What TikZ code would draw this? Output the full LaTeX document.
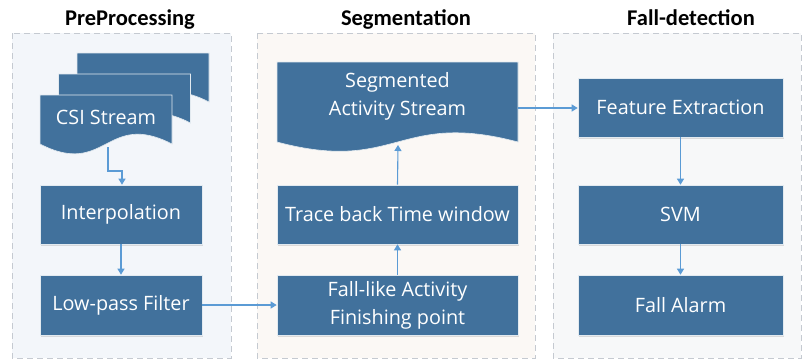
\documentclass[tikz,border=0pt]{standalone}
\usepackage{fontspec}
\setmainfont{Open Sans}
\newfontfamily\titlefont{Carlito}
\usetikzlibrary{arrows.meta,shadows}
\definecolor{boxblue}{HTML}{41719C}
\definecolor{linkblue}{HTML}{5B9BD5}
\definecolor{panelA}{HTML}{F3F6FA}
\definecolor{panelB}{HTML}{FBF8F5}
\definecolor{panelC}{HTML}{F7F8F9}
\definecolor{panelline}{HTML}{C5CAD1}
\tikzset{
  panel/.style={draw=panelline, dashed, dash pattern=on 6pt off 4pt, line width=0.9pt},
  stepbox/.style={draw=white!85!boxblue, line width=0.6pt, fill=boxblue, text=white, font=\fontsize{19.8}{28}\selectfont, align=center, inner sep=0pt, drop shadow={shadow xshift=1pt, shadow yshift=-1.5pt, opacity=0.25}},
  doc/.style={draw=white!85!boxblue, line width=0.6pt, fill=boxblue},
  txt/.style={text=white, font=\fontsize{19.8}{28}\selectfont, align=center},
  title/.style={font=\titlefont\bfseries\fontsize{22.5}{26}\selectfont},
  link/.style={draw=linkblue, line width=1.1pt, -{Triangle[width=7pt,length=6pt]}}
}
\begin{document}
\begin{tikzpicture}[x=1pt,y=-1pt]
\useasboundingbox (0,0) rectangle (802,360);
% panels
\fill[panelA] (12,33) rectangle (231,358);
\draw[panel] (12,33) rectangle (231,358);
\fill[panelB] (257,33) rectangle (535,358);
\draw[panel] (257,33) rectangle (535,358);
\fill[panelC] (553,33) rectangle (801,358);
\draw[panel] (553,33) rectangle (801,358);
% titles
\node[title] (t1) at (130,20) {PreProcessing};
\node[title] (t2) at (406,19) {Segmentation};
\node[title] (t3) at (691,18) {Fall-detection};
% CSI stream stack
\foreach \dx/\dy in {37/-42, 18.5/-21, 0/0} {
  \path[doc] (40+\dx,95+\dy) -- (172+\dx,95+\dy) -- (172+\dx,144+\dy)
    .. controls (106+\dx,110+\dy) and (106+\dx,178+\dy) .. (40+\dx,144+\dy) -- cycle;
}
\node[txt] (csi) at (106,117) {CSI Stream};
\coordinate (csib) at (108,147);
\coordinate (bend1) at (108,171);
\coordinate (bend2) at (122,171);
% boxes preprocessing
\node[stepbox, minimum width=162pt, minimum height=59pt] (interp) at (121,214.5) {Interpolation};
\node[stepbox, minimum width=162pt, minimum height=60pt] (lowpass) at (121,305) {Low-pass Filter};
% segmentation
\path[doc] (277,62) -- (518,62) -- (518,142)
  .. controls (397.5,110) and (397.5,174) .. (277,142) -- cycle;
\node[txt] (seg) at (397.5,96) {Segmented\\Activity Stream};
\coordinate (segb) at (398,145);
\coordinate (segr) at (518,108);
\node[stepbox, minimum width=241pt, minimum height=59pt] (trace) at (397.5,214.5) {Trace back Time window};
\node[stepbox, minimum width=241pt, minimum height=60pt] (falllike) at (397.5,305) {Fall-like Activity\\Finishing point};
% fall detection
\node[stepbox, minimum width=205pt, minimum height=59pt] (feat) at (680.5,107.5) {Feature Extraction};
\node[stepbox, minimum width=205pt, minimum height=59pt] (svm) at (680.5,214.5) {SVM};
\node[stepbox, minimum width=205pt, minimum height=60pt] (alarm) at (680.5,305) {Fall Alarm};
% connectors
\draw[link] (csib) -- (bend1) -- (bend2) -- (interp.north -| bend2);
\draw[link] (interp) -- (lowpass);
\draw[link] (lowpass) -- (falllike);
\draw[link] (falllike) -- (trace);
\draw[link] (trace.north) -- (segb);
\draw[link] (segr) -- (feat.west |- segr);
\draw[link] (feat) -- (svm);
\draw[link] (svm) -- (alarm);
\end{tikzpicture}
\end{document}
